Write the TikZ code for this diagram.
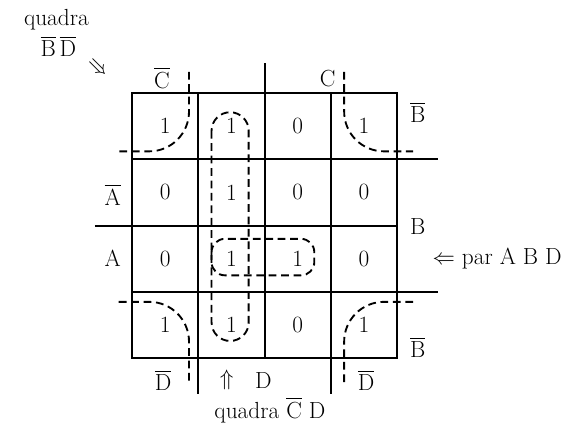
\documentclass[tikz,border=0pt]{standalone}
\usepackage{amsmath,amssymb}
\usepackage{tikz}
\usetikzlibrary{positioning,calc}

\newcommand{\nt}[1]{$\overline{\mbox{#1}}$}

\begin{document}
\begin{tikzpicture}[x=1.5cm, y=1.5cm, font=\fontsize{15}{17}\selectfont]
            \tikzset{kmap/.style={line width=1.3pt},
                     grp/.style={line width=1.2pt, dash pattern=on 5pt off 3pt}}
            \useasboundingbox (-1.991,1.403) rectangle (6.486,-5.008);

            % --- grid with the long dividing lines ---
            \draw[kmap] (0,0) rectangle (4,-4);
            \draw[kmap] (1,0) -- (1,-4.54);
            \draw[kmap] (2,0.45) -- (2,-4);
            \draw[kmap] (3,0) -- (3,-4.54);
            \draw[kmap] (0,-1) -- (4.62,-1);
            \draw[kmap] (-0.56,-2) -- (4,-2);
            \draw[kmap] (0,-3) -- (4.62,-3);

            % --- cell values ---
            \node (c11) at (0.5,-0.5) {1};
            \node (c12) at (1.5,-0.5) {1};
            \node (c13) at (2.5,-0.5) {0};
            \node (c14) at (3.5,-0.5) {1};
            \node (c21) at (0.5,-1.5) {0};
            \node (c22) at (1.5,-1.5) {1};
            \node (c23) at (2.5,-1.5) {0};
            \node (c24) at (3.5,-1.5) {0};
            \node (c31) at (0.5,-2.5) {0};
            \node (c32) at (1.5,-2.5) {1};
            \node (c33) at (2.5,-2.5) {1};
            \node (c34) at (3.5,-2.5) {0};
            \node (c41) at (0.5,-3.5) {1};
            \node (c42) at (1.5,-3.5) {1};
            \node (c43) at (2.5,-3.5) {0};
            \node (c44) at (3.5,-3.5) {1};

            % --- variable labels ---
            \node (nc) at (0.45,0.23) {\nt{C}};
            \node (pc) at (2.95,0.22) {C};
            \node (nb1) at (4.31,-0.29) {\nt{B}};
            \node (pb) at (4.31,-2.02) {B};
            \node (nb2) at (4.31,-3.83) {\nt{B}};
            \node (na) at (-0.29,-1.54) {\nt{A}};
            \node (pa) at (-0.29,-2.5) {A};
            \node (nd1) at (0.47,-4.33) {\nt{D}};
            \node (pd) at (1.98,-4.33) {D};
            \node (nd2) at (3.53,-4.33) {\nt{D}};

            % --- groups ---
            \draw[grp, rounded corners=0.9cm] (0.86,0.32) |- (-0.2,-0.88);
            \draw[grp, rounded corners=0.9cm] (3.2,0.32) |- (4.24,-0.88);
            \draw[grp, rounded corners=0.9cm] (-0.2,-3.15) -| (0.86,-4.37);
            \draw[grp, rounded corners=0.9cm] (4.24,-3.15) -| (3.2,-4.37);
            \draw[grp, rounded corners=0.42cm] (1.2,-0.29) rectangle (1.76,-3.74);
            \draw[grp, rounded corners=0.3cm] (1.2,-2.2) rectangle (2.75,-2.75);

            % --- notes ---
            \node (q1) at (-1.14,1.10) {quadra};
            \node (q1b) at (-1.11,0.71) {\nt{B}\,\nt{D}};
            \node[rotate=-45] (q1arr) at (-0.53,0.37) {$\Rightarrow$};
            \node (q2arr) at (1.43,-4.33) {$\Uparrow$};
            \node (q2) at (2.08,-4.78) {quadra \nt{C} D};
            \node[anchor=west] (par) at (4.45,-2.49) {$\Leftarrow$ par A B D};
        \end{tikzpicture}
\end{document}
